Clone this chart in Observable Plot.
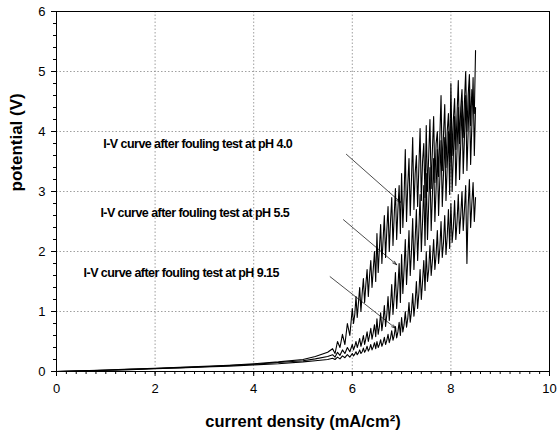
<!DOCTYPE html>
<html>
<head>
<meta charset="utf-8">
<script src="https://cdn.jsdelivr.net/npm/d3@7"></script>
<script src="https://cdn.jsdelivr.net/npm/@observablehq/plot@0.6"></script>
<style>
  html, body { margin: 0; padding: 0; background: #fff; }
  #chart { width: 559px; height: 438px; }
  .ann text { letter-spacing: -0.55px; }
</style>
</head>
<body>
<div id="chart"></div>
<script>
// current density (mA/cm²)
const xs = [0,0.5,1,1.5,2,2.5,3,3.5,4,4.5,5,5.25,5.5,
  5.6,5.65,5.7,5.75,5.8,5.85,5.9,5.95,
  6,6.025,6.05,6.075,6.1,6.125,6.15,6.175,6.2,6.225,6.25,6.275,6.3,6.325,6.35,6.375,6.4,6.425,6.45,6.475,
  6.5,6.525,6.55,6.575,6.6,6.625,6.65,6.675,6.7,6.725,6.75,6.775,6.8,6.825,6.85,6.875,6.9,6.925,6.95,6.975,
  7,7.025,7.05,7.075,7.1,7.125,7.15,7.175,7.2,7.225,7.25,7.275,7.3,7.325,7.35,7.375,7.4,7.425,7.45,7.475,
  7.5,7.525,7.55,7.575,7.6,7.625,7.65,7.675,7.7,7.725,7.75,7.775,7.8,7.825,7.85,7.875,7.9,7.925,7.95,7.975,
  8,8.025,8.05,8.075,8.1,8.125,8.15,8.175,8.2,8.225,8.25,8.275,8.3,8.325,8.35,8.375,8.4,8.425,8.45,8.475,
  8.5];

// potential (V), I-V curve after fouling test at pH 4.0
const pH40 = [0,0.012,0.025,0.04,0.055,0.07,0.085,0.105,0.13,0.16,0.2,0.25,0.32,
  0.38,0.3,0.5,0.4,0.62,0.45,0.8,0.6,
  1.05,0.8,0.95,1.25,0.9,1.15,1.4,1.0,1.3,1.55,1.15,1.45,1.7,1.25,1.6,1.85,1.4,1.7,2.0,1.5,
  2.3,1.65,2.05,2.45,1.8,2.2,2.6,1.9,2.35,2.75,2.0,2.5,2.9,2.1,2.6,3.05,2.2,2.7,3.1,2.3,
  3.3,2.4,2.9,3.7,2.5,3.1,3.55,2.6,3.2,3.9,2.7,3.3,3.6,2.75,3.4,4.05,2.85,3.5,3.8,2.9,
  4.1,3.0,3.6,4.2,3.05,3.7,4.25,3.15,3.8,4.0,3.25,3.9,4.6,3.35,3.95,4.45,3.4,4.0,4.3,3.5,
  4.8,3.6,4.2,4.55,3.7,4.3,4.85,3.8,4.4,4.7,3.9,4.5,5.0,4.0,4.6,4.95,4.1,4.7,4.5,4.3,
  5.35];

// potential (V), pH 5.5
const pH55 = [0,0.01,0.022,0.035,0.05,0.065,0.08,0.1,0.12,0.15,0.18,0.21,0.25,
  0.28,0.24,0.32,0.27,0.36,0.3,0.4,0.33,
  0.45,0.36,0.42,0.5,0.4,0.47,0.55,0.42,0.5,0.6,0.45,0.55,0.66,0.5,0.6,0.72,0.54,0.65,0.78,0.58,
  0.88,0.62,0.75,0.98,0.68,0.85,1.1,0.75,0.95,1.25,0.85,1.1,1.45,0.95,1.25,1.65,1.05,1.4,1.8,1.15,
  1.95,1.3,1.7,2.2,1.45,1.85,2.35,1.6,2.0,2.55,1.7,2.2,2.7,1.85,2.35,2.95,2.0,2.5,3.1,2.1,
  3.3,2.2,2.8,3.4,2.35,2.95,3.55,2.5,3.05,3.7,2.6,3.2,3.85,2.75,3.3,3.9,2.85,3.4,4.0,2.95,
  4.2,3.0,3.6,4.25,3.1,3.7,4.4,3.2,3.8,4.5,3.3,3.9,4.6,3.35,4.0,4.7,3.45,4.1,4.9,3.6,
  4.4];

// potential (V), pH 9.15
const pH915 = [0,0.008,0.02,0.03,0.045,0.06,0.075,0.09,0.11,0.13,0.16,0.18,0.2,
  0.22,0.2,0.24,0.21,0.26,0.23,0.28,0.24,
  0.3,0.26,0.29,0.33,0.28,0.31,0.36,0.3,0.33,0.39,0.32,0.36,0.42,0.34,0.38,0.45,0.36,0.41,0.48,0.38,
  0.5,0.4,0.45,0.53,0.42,0.48,0.57,0.45,0.52,0.62,0.48,0.56,0.68,0.52,0.6,0.75,0.56,0.66,0.82,0.6,
  0.9,0.66,0.78,1.0,0.74,0.88,1.15,0.82,1.0,1.3,0.92,1.15,1.5,1.05,1.3,1.7,1.2,1.5,1.85,1.35,
  2.0,1.5,1.7,2.1,1.6,1.85,2.2,1.7,1.95,2.35,1.8,2.05,2.5,1.9,2.15,2.6,1.95,2.25,2.7,2.05,
  2.8,2.15,2.4,2.85,2.2,2.5,2.95,2.3,2.6,3.0,2.35,2.7,3.1,1.8,2.75,3.2,2.4,2.8,3.15,2.5,
  2.9];

const seriesNames = ["pH 4.0", "pH 5.5", "pH 9.15"];
const xTicks = [0, 2, 4, 6, 8, 10];
const yTicks = [0, 1, 2, 3, 4, 5, 6];
const gridX = [2, 4, 6, 8];
const gridY = [1, 2, 3, 4, 5];

// annotations
const annText = ["I-V curve after fouling test at pH 4.0",
                 "I-V curve after fouling test at pH 5.5",
                 "I-V curve after fouling test at pH 9.15"];
const annX = [0.95, 0.89, 0.55];
const annY = [3.8, 2.64, 1.64];
const arrX1 = [5.88, 5.82, 5.55];
const arrY1 = [3.62, 2.53, 1.58];
const arrX2 = [6.98, 6.9, 6.88];
const arrY2 = [2.82, 1.78, 0.72];

const curves = [pH40, pH55, pH915];
const rows = curves.flatMap((ys, k) => ys.map((y, i) => ({series: seriesNames[k], x: xs[i], y})).filter(d => d.x !== undefined));
const anns = annText.map((t, i) => ({t, x: annX[i], y: annY[i]}));
const arrows = arrX1.map((x1, i) => ({x1, y1: arrY1[i], x2: arrX2[i], y2: arrY2[i]}));

const minorX = d3.range(0, 10.001, 0.2);
const minorY = d3.range(0, 6.001, 0.2);

const chart = Plot.plot({
  width: 559,
  height: 438,
  marginLeft: 56,
  marginRight: 10,
  marginTop: 11,
  marginBottom: 67,
  style: {fontFamily: "'Liberation Sans', Arial, sans-serif", fontSize: "13px", color: "black", background: "white"},
  x: {domain: [0, 10], label: null},
  y: {domain: [0, 6], label: null},
  marks: [
    Plot.ruleX(gridX, {stroke: "#888", strokeDasharray: "1.5,2", strokeWidth: 0.8}),
    Plot.ruleY(gridY, {stroke: "#888", strokeDasharray: "1.5,2", strokeWidth: 0.8}),
    Plot.axisX(minorX, {tickSize: 3, text: null, stroke: "black"}),
    Plot.axisY(minorY, {tickSize: 3, text: null, stroke: "black"}),
    Plot.axisX(xTicks, {tickSize: 5, tickPadding: 7, fontSize: 13, tickFormat: d => String(d), label: null}),
    Plot.axisY(yTicks, {tickSize: 5, tickPadding: 6, fontSize: 13, tickFormat: d => String(d), label: null}),
    Plot.line(rows, {x: "x", y: "y", z: "series", stroke: "black", strokeWidth: 1.1}),
    Plot.arrow(arrows, {x1: "x1", y1: "y1", x2: "x2", y2: "y2", stroke: "black", strokeWidth: 0.7, headLength: 9, headAngle: 35}),
    Plot.text(anns, {x: "x", y: "y", text: "t", textAnchor: "start", fontWeight: "bold", fontSize: 12.5, fill: "black", className: "ann"}),
    Plot.frame({stroke: "black", strokeWidth: 1}),
    Plot.text(["current density (mA/cm²)"], {frameAnchor: "bottom", dy: 55, fontWeight: "bold", fontSize: 16.5, fill: "black"}),
    Plot.text(["potential (V)"], {frameAnchor: "left", dx: -40, rotate: -90, fontWeight: "bold", fontSize: 17, fill: "black"})
  ]
});
document.getElementById("chart").appendChild(chart);
</script>
</body>
</html>
